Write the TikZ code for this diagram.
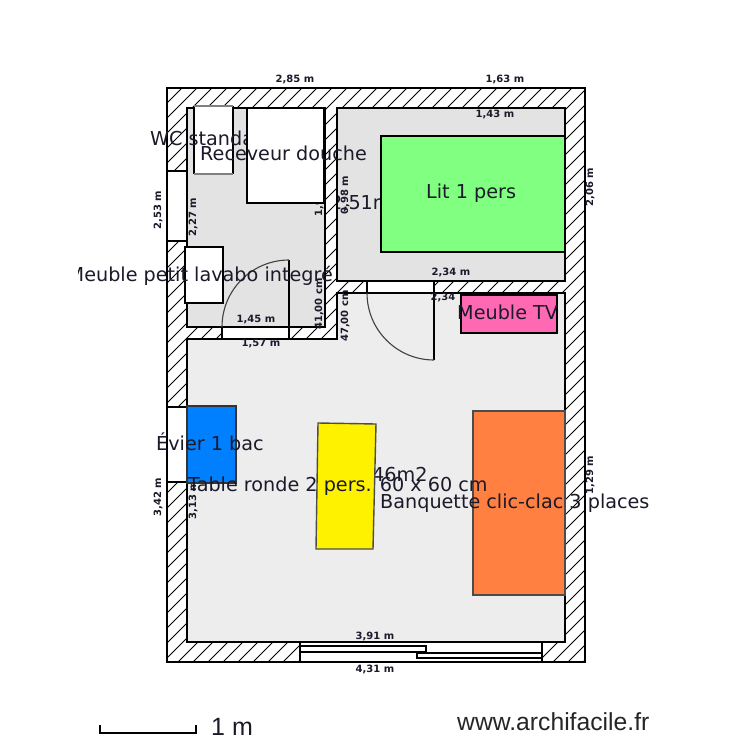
\documentclass[tikz,border=0pt]{standalone}
\usepackage{fontspec}
\setmainfont{DejaVu Sans}
\newfontfamily\archifont{Liberation Sans}
\definecolor{txt}{HTML}{1A1A2A}
\tikzset{
  wallline/.style={draw=black,line width=1.6pt},
  hatchline/.style={draw=black,line width=1pt},
  bigtext/.style={anchor=base west,inner sep=0pt,text=txt,font=\fontsize{19.2}{22}\selectfont},
  dimtext/.style={inner sep=0pt,text=txt,font=\fontsize{10}{12}\bfseries\selectfont},
  opening/.style={fill=white,draw=black,line width=1.4pt},
  furn/.style={draw=black,line width=1.4pt},
  doorarc/.style={draw=black!75,line width=1.1pt}
}
\begin{document}
\begin{tikzpicture}[x=1pt,y=-1pt]
\useasboundingbox (0,0) rectangle (750,750);
\fill[white] (0,0) rectangle (750,750);
% hatched walls
\begin{scope}
\clip (167,88) rectangle (585,662);
\foreach \i in {0,15,...,1410} {\draw[hatchline] (\i,0) -- (\i-750,750);}
\end{scope}
\draw[wallline] (167,88) rectangle (585,662);
% rooms
\filldraw[fill=black!11,wallline] (187,108) rectangle (325,327);
\filldraw[fill=black!11,wallline] (337,108) rectangle (565,281);
\filldraw[fill=black!7,wallline] (187,339) -- (337,339) -- (337,293) -- (565,293) -- (565,642) -- (187,642) -- cycle;
% windows and openings
\filldraw[opening] (167,171) rectangle (187,241);
\filldraw[opening] (167,407) rectangle (187,482);
\filldraw[opening] (300,642) rectangle (542,662);
\filldraw[fill=white,draw=black,line width=1.2pt] (300,646) rectangle (426,652);
\filldraw[fill=white,draw=black,line width=1.2pt] (417,653) rectangle (542,658);
\filldraw[opening] (222,327) rectangle (289,339);
\filldraw[opening] (367,281) rectangle (434,293);
% doors
\draw[black,line width=1.4pt] (289,339) -- (289,260);
\draw[doorarc] (289,260) .. controls (252,260) and (222,290) .. (222,327);
\draw[black,line width=1.4pt] (434,281) -- (434,360);
\draw[doorarc] (367,293) .. controls (367,330) and (397,360) .. (434,360);
% dimensions
\node[dimtext] (d1) at (295,79) {2,85 m};
\node[dimtext] (d2) at (505,79) {1,63 m};
\node[dimtext] (d3) at (495,114) {1,43 m};
\node[dimtext] (d4) at (451,272) {2,34 m};
\node[dimtext] (d5) at (443,297) {2,34};
\node[dimtext] (d6) at (256,320) {1,45 m};
\node[dimtext] (d7) at (261,344) {1,57 m};
\node[dimtext] (d8) at (375,636) {3,91 m};
\node[dimtext] (d9) at (375,669) {4,31 m};
\node[dimtext,rotate=90] (r1) at (158,210) {2,53 m};
\node[dimtext,rotate=90] (r2) at (193,217) {2,27 m};
\node[dimtext,rotate=90] (r3) at (590,187) {2,06 m};
\node[dimtext,rotate=90] (r4) at (319,197) {1,98 m};
\node[dimtext,rotate=90] (r5) at (345,195) {0,98 m};
\node[dimtext,rotate=90] (r6) at (319,304) {41,00 cm};
\node[dimtext,rotate=90] (r7) at (345,316) {47,00 cm};
\node[dimtext,rotate=90] (r8) at (158,497) {3,42 m};
\node[dimtext,rotate=90] (r9) at (193,500) {3,13 m};
\node[dimtext,rotate=90] (r10) at (590,475) {1,29 m};
% furniture
\begin{scope}
\clip (338,180) rectangle (420,230);
\node[bigtext] (areaA) at (330,209) {2,51m2};
\end{scope}
\node[bigtext] (areaB) at (372,481) {46m2};
\fill[white] (194,106) rectangle (233,174);
\draw[furn] (194,106) -- (194,174) (233,106) -- (233,174);
\draw[draw=black!50,line width=1.8pt] (194,106) -- (233,106) (194,174) -- (233,174);
\node[bigtext] (wc) at (150,145) {WC standard};
\filldraw[fill=white,furn] (247,108) rectangle (324,203);
\draw[black,line width=2.4pt] (324,108) -- (324,203);
\filldraw[fill=white,furn] (185,247) rectangle (223,303);
\filldraw[fill={rgb,255:red,128;green,255;blue,128},draw=black,line width=1.6pt] (381,136) rectangle (565,252);
\filldraw[fill={rgb,255:red,255;green,105;blue,180},furn] (461,295) rectangle (557,333);
\filldraw[fill={rgb,255:red,0;green,128;blue,255},draw=black!80,line width=1.4pt] (187,406) rectangle (236,483);
\filldraw[fill=yellow,draw=black!70,line width=1.4pt] (318,423) -- (376,424) -- (373,549) -- (316,549) -- cycle;
\filldraw[fill={rgb,255:red,255;green,128;blue,64},draw=black!70,line width=1.4pt] (473,411) rectangle (565,595);
% furniture labels
\node[bigtext] (rec) at (200,160) {Receveur douche};
\begin{scope}
\clip (78,240) rectangle (340,300);
\node[bigtext,anchor=base east] (lav) at (333,281) {Meuble petit lavabo integré};
\end{scope}
\node[bigtext] (lit) at (426,198) {Lit 1 pers};
\node[bigtext] (tv) at (457,319) {Meuble TV};
\node[bigtext] (ev) at (156,450) {Évier 1 bac};
\node[bigtext] (tab) at (188,491) {Table ronde 2 pers. 60 x 60 cm};
\node[bigtext] (ban) at (380,508) {Banquette clic-clac 3 places};
% scale and credit
\coordinate (s1) at (100,725);
\coordinate (s2) at (100,733);
\coordinate (s3) at (196,733);
\coordinate (s4) at (196,725);
\draw[black,line width=1.2pt] (s1) -- (s2) -- (s3) -- (s4);
\node[anchor=base west,inner sep=0pt,text=txt,font=\archifont\fontsize{25}{28}\selectfont] (one) at (211,735) {1 m};
\node[anchor=base west,inner sep=0pt,text=black!85,font=\archifont\fontsize{24.7}{28}\selectfont] (site) at (457,730) {www.archifacile.fr};
\end{tikzpicture}
\end{document}
